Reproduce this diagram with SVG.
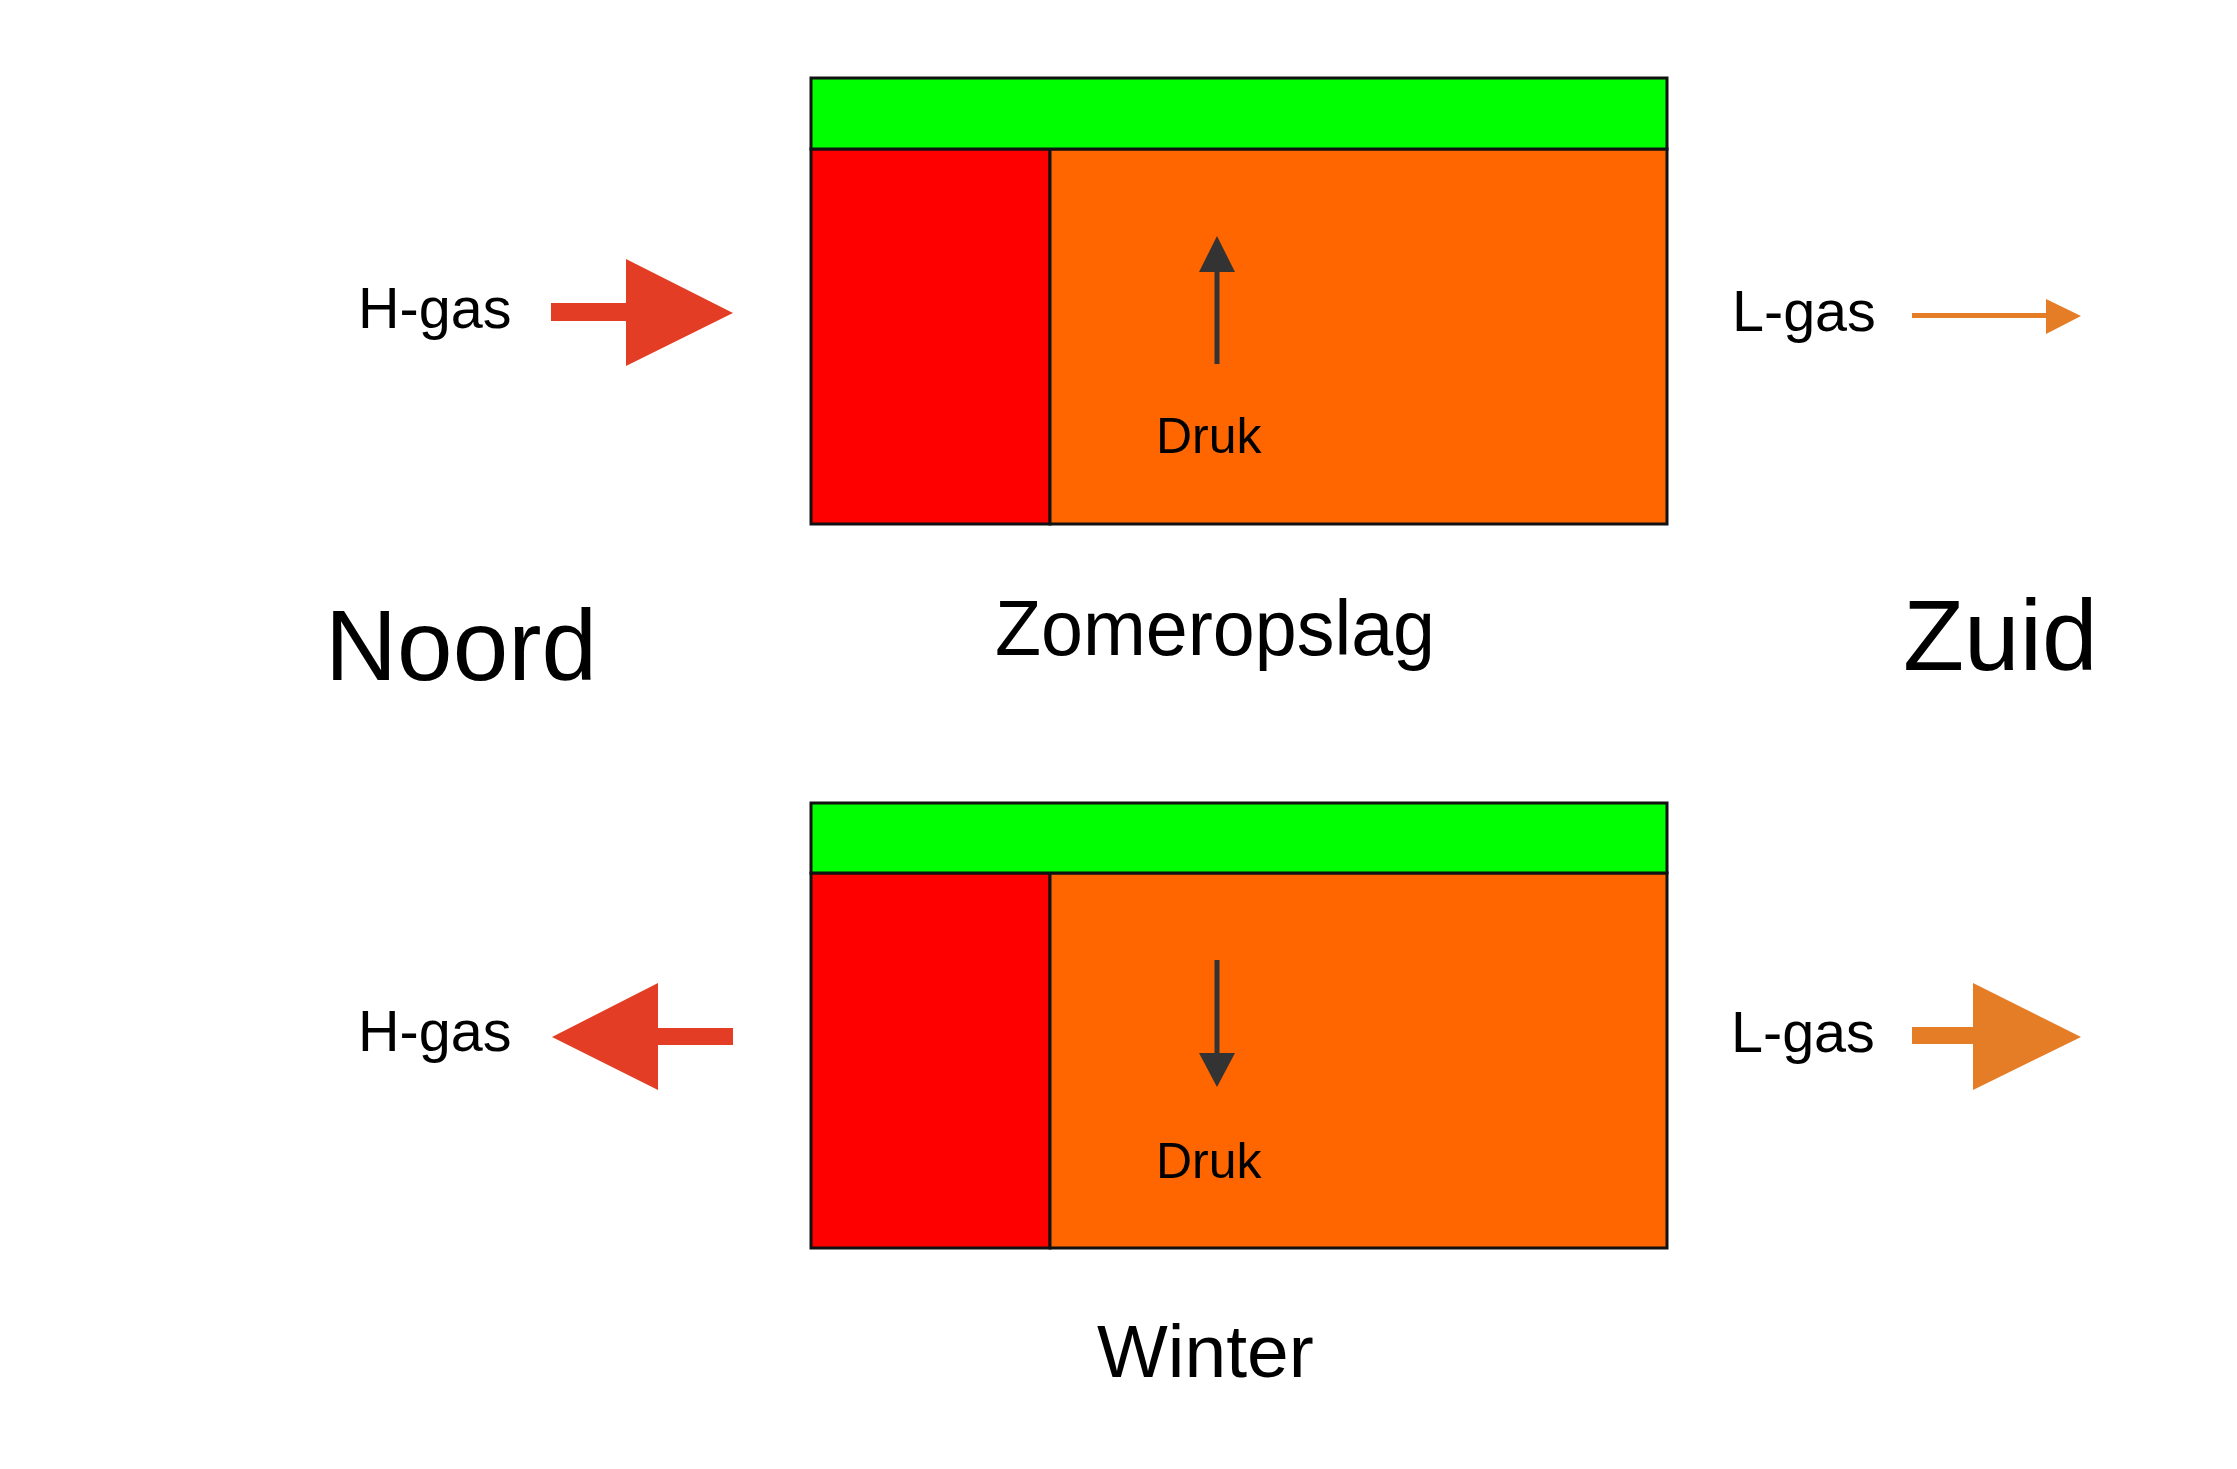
<svg xmlns="http://www.w3.org/2000/svg" width="2237" height="1469" viewBox="0 0 2237 1469">
<style>
text{font-family:"Liberation Sans",Arial,sans-serif;fill:#000}
.g{fill:#00FF00;stroke:#111;stroke-width:3}
.r{fill:#FF0000;stroke:#111;stroke-width:3}
.o{fill:#FF6600;stroke:#111;stroke-width:3}
.hred{fill:#E33E25}
.lor{fill:#E57D26}
.dk{fill:#333}
.lbl{font-size:57.5px}
.druk{font-size:50px}
</style>
<rect width="2237" height="1469" fill="#fff"/>
<g id="zomer">
<rect class="r" x="811" y="149" width="239" height="375"/>
<rect class="o" x="1050" y="149" width="617" height="375"/>
<rect class="g" x="811" y="78" width="856" height="71"/>
<text class="druk" x="1156" y="453">Druk</text>
</g>
<g id="winter">
<rect class="r" x="811" y="873" width="239" height="375"/>
<rect class="o" x="1050" y="873" width="617" height="375"/>
<rect class="g" x="811" y="803" width="856" height="70"/>
<text class="druk" x="1156" y="1178">Druk</text>
</g>
<g id="labels">
<text class="lbl" x="358" y="328">H-gas</text>
<text class="lbl" x="358" y="1051">H-gas</text>
<text class="lbl" x="1732" y="331">L-gas</text>
<text class="lbl" x="1731" y="1052">L-gas</text>
<text x="325" y="680" font-size="101" textLength="272" lengthAdjust="spacingAndGlyphs">Noord</text>
<text x="1903" y="670" font-size="100">Zuid</text>
<text x="995" y="655" font-size="77" textLength="440" lengthAdjust="spacingAndGlyphs">Zomeropslag</text>
<text x="1097" y="1377" font-size="75">Winter</text>
</g>
<g id="connectors">
<polygon class="hred" points="551,303 626,303 626,259 733,313 626,366 626,321 551,321"/>
<polygon class="hred" points="733,1028 658,1028 658,983 552,1037 658,1090 658,1045 733,1045"/>
<polygon class="lor" points="1912,313 2046,313 2046,299 2081,316 2046,334 2046,318 1912,318"/>
<polygon class="lor" points="1912,1027 1973,1027 1973,983 2081,1037 1973,1090 1973,1044 1912,1044"/>
<polygon class="dk" points="1214.5,364 1214.5,272 1199,272 1217,236 1235,272 1219.5,272 1219.5,364"/>
<polygon class="dk" points="1214.5,960 1214.5,1053 1199,1053 1217,1087 1235,1053 1219.5,1053 1219.5,960"/>
</g>
</svg>
